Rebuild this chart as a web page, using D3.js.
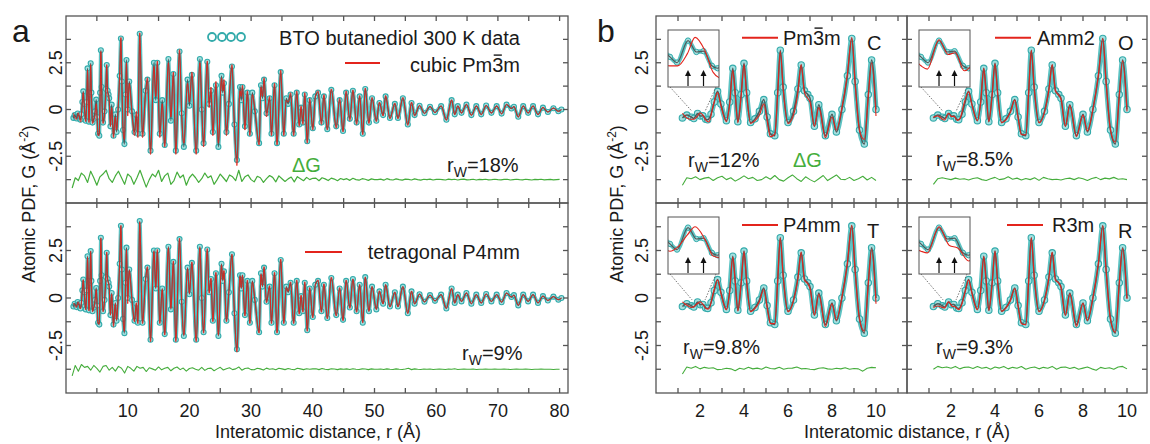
<!DOCTYPE html>
<html><head><meta charset="utf-8">
<script src="https://cdn.jsdelivr.net/npm/d3@7"></script>
<style>body{margin:0;background:#fff}svg{display:block}text{font-family:"Liberation Sans",Arial,Helvetica,sans-serif}</style>
</head><body><script>
// ---------------- DATA ----------------
// measured PDF, BTO butanediol 300 K: [r (Å), G (Å^-2)]
const pdfData = [
[1.2,-0.45],[1.4,-0.3],[1.61,-0.41],[1.72,-0.48],[1.89,-0.21],[2.02,-0.35],[2.13,-0.34],[2.26,-0.52],[2.35,-0.55],[2.5,-0.25],[2.65,0.4],[2.8,0.97],[2.95,0.3],[3.2,-0.6],[3.35,0.4],[3.49,2.2],[3.6,0.9],[3.72,-0.65],[3.87,0.8],[4.0,2.47],[4.12,0.9],[4.3,-0.7],[4.5,-0.5],[4.7,-0.1],[4.9,0.53],[5.05,-0.4],[5.2,-1.3],[5.4,-1.4],[5.53,0.9],[5.65,3.17],[5.78,1.2],[6.0,-0.7],[6.25,-0.1],[6.45,1.1],[6.6,2.38],[6.75,1.0],[6.9,0.8],[7.0,0.6],[7.2,-0.9],[7.4,0.26],[7.7,-1.4],[8.0,-0.26],[8.2,-1.2],[8.45,0.0],[8.7,1.8],[8.9,3.8],[9.05,1.5],[9.25,-1.1],[9.47,-1.85],[9.65,0.8],[9.8,2.65],[10.0,0.0],
[10.25,1.5],[10.7,-0.1],[11.1,-1.2],[11.4,-0.3],[11.65,-1.3],[11.95,4.05],[12.4,-1.3],[12.9,1.0],[13.2,1.6],[13.7,-2.2],[14.25,2.5],[14.55,0.5],[14.8,2.5],[15.2,-1.3],[15.6,0.5],[16.0,-1.9],[16.6,2.7],[17.0,-0.6],[17.4,1.9],[17.8,-2.2],[18.4,3.1],[18.75,-0.2],[19.1,-2.0],[19.7,1.6],[20.0,0.2],[20.4,1.85],[21.1,-2.2],[21.7,2.7],[22.0,0.0],[22.3,-1.8],[22.9,2.55],[23.2,0.3],[23.5,1.0],[23.8,-1.2],[24.3,1.3],[24.7,-2.0],[25.2,1.8],[25.4,0.9],[25.6,1.4],[26.0,-1.2],[26.4,0.3],[26.9,2.3],[27.3,-0.8],[27.7,-2.7],[28.2,1.2],[28.4,0.5],[28.6,1.2],[29.0,-0.9],[29.4,0.9],[29.8,-1.3],[30.2,0.9],[30.6,-0.1],[31.3,-1.8],[31.6,1.3],[31.85,0.6],[32.1,1.6],[32.5,-0.2],[33.0,0.6],[33.3,-1.3],[33.8,1.3],[34.2,-1.8],[34.8,2.0],[35.3,-1.3],[35.7,0.6],[36.0,0.3],[36.4,0.8],[36.9,-1.3],[37.4,0.9],[37.8,-0.8],[38.1,0.1],[38.4,-0.7],[38.7,0.8],[39.1,-1.7],[39.5,0.5],[40.0,-1.0],[40.4,0.7],[40.85,0.9],[41.4,-0.7],[41.8,0.7],[42.35,-1.05],[43.0,1.05],[43.8,-0.9],[44.35,0.5],[44.9,-1.15],[45.4,0.9],[46.0,-0.5],[46.5,1.0],[47.1,-0.7],[47.6,0.7],[48.1,-1.3],[48.5,1.1],[49.1,-0.7],[49.6,0.6],[50.3,-0.6],[50.8,0.35],[51.4,-0.3],[51.8,0.7],[52.5,-0.45],[53.3,0.3],[53.8,-0.45],[54.6,0.6],[55.4,-0.8],[56.0,0.35],[56.5,-0.3],[57.3,0.2],[58.1,-0.2],[59.0,0.15],[59.8,-0.15],[60.8,0.18],[61.65,-0.55],[62.5,0.5],[63.0,-0.26],[63.5,0.18],[64.1,-0.18],[64.9,0.26],[65.7,-0.3],[66.5,0.18],[67.3,-0.26],[68.1,0.21],[68.95,-0.18],[69.8,0.18],[70.6,-0.22],[71.4,0.26],[72.2,0.05],[72.6,0.15],[73.3,-0.39],[74.1,0.18],[74.9,-0.18],[75.7,0.18],[76.5,-0.26],[77.3,0.1],[78.1,-0.13],[79.0,0.07],[79.8,-0.09],[80.3,0.0]
];
// panel a fits
const fitCubicA = [
[1.2,-0.2],[1.4,-0.45],[1.61,-0.52],[1.73,-0.52],[1.88,-0.37],[2.0,-0.17],[2.15,-0.33],[2.28,-0.6],[2.4,-0.67],[2.6,0.2],[2.8,0.9],[2.95,0.2],[3.2,-0.65],[3.35,0.3],[3.49,2.1],[3.6,0.8],[3.72,-0.7],[3.87,0.7],[4.0,2.4],[4.12,0.8],[4.3,-0.75],[4.5,-0.6],[4.7,-0.3],[4.9,0.3],[5.05,-0.6],[5.2,-1.4],[5.4,-1.3],[5.53,0.8],[5.65,3.1],[5.78,1.1],[6.0,-0.75],[6.25,-0.3],[6.45,0.9],[6.6,2.4],[6.75,0.9],[6.9,0.6],[7.0,0.4],[7.2,-0.9],[7.4,0.1],[7.7,-1.5],[8.0,-0.4],[8.2,-1.1],[8.45,0.1],[8.7,1.9],[8.9,3.85],[9.05,1.4],[9.25,-1.1],[9.47,-1.6],[9.65,0.7],[9.8,2.5],[10.0,-0.35],
[10.25,1.4],[10.7,-0.3],[11.1,-1.4],[11.4,-0.1],[11.65,-1.5],[11.95,4.1],[12.4,-1.5],[12.9,0.8],[13.2,1.7],[13.7,-2.4],[14.25,2.3],[14.55,0.7],[14.8,2.6],[15.2,-1.5],[15.6,0.3],[16.0,-2.0],[16.6,2.5],[17.0,-0.4],[17.4,2.0],[17.8,-2.4],[18.4,3.2],[18.75,-0.4],[19.1,-1.8],[19.7,1.4],[20.0,0.4],[20.4,2.0],[21.1,-2.4],[21.7,2.5],[22.0,0.2],[22.3,-2.0],[22.9,2.6],[23.2,0.1],[23.5,1.2],[23.8,-1.4],[24.3,1.5],[24.7,-1.8],[25.2,1.7],[25.4,1.0],[25.6,1.6],[26.0,-1.4],[26.4,0.5],[26.9,2.4],[27.3,-1.0],[27.7,-3.0],[28.2,1.0],[28.4,0.7],[28.6,1.3],[29.0,-1.1],[29.4,1.0],[29.8,-1.4],[30.2,0.8],[30.6,0.1],[31.3,-1.9],[31.6,1.2],[31.85,0.7],[32.1,1.7],[32.5,-0.4],[33.0,0.7],[33.3,-1.4],[33.8,1.4],[34.2,-1.9],[34.8,2.1],[35.3,-1.4],[35.7,0.5],[36.0,0.4],[36.4,0.9],[36.9,-1.4],[37.4,1.0],[37.8,-0.9],[38.1,0.2],[38.4,-0.8],[38.7,0.9],[39.1,-1.8],[39.5,0.6],[40.0,-1.1],[40.4,0.6],[40.85,1.0],[41.4,-0.8],[41.8,0.8],[42.35,-1.1],[43.0,1.1],[43.8,-1.0],[44.35,0.6],[44.9,-1.2],[45.4,1.0],[46.0,-0.6],[46.5,1.05],[47.1,-0.8],[47.6,0.75],[48.1,-1.35],[48.5,1.15],[49.1,-0.75],[49.6,0.65],[50.3,-0.65],[50.8,0.4],[51.4,-0.35],[51.8,0.75],[52.5,-0.5],[53.3,0.35],[53.8,-0.5],[54.6,0.65],[55.4,-0.85],[56.0,0.4],[56.5,-0.35],[57.3,0.22],[58.1,-0.22],[59.0,0.17],[59.8,-0.17],[60.8,0.2],[61.65,-0.58],[62.5,0.52],[63.0,-0.28],[63.5,0.2],[64.1,-0.2],[64.9,0.28],[65.7,-0.32],[66.5,0.2],[67.3,-0.28],[68.1,0.22],[68.95,-0.2],[69.8,0.2],[70.6,-0.24],[71.4,0.28],[72.2,0.06],[72.6,0.16],[73.3,-0.4],[74.1,0.2],[74.9,-0.2],[75.7,0.2],[76.5,-0.28],[77.3,0.12],[78.1,-0.14],[79.0,0.08],[79.8,-0.1],[80.3,0.0]
];
const fitTetraA = [
[1.2,-0.26],[1.4,-0.38],[1.61,-0.5],[1.73,-0.45],[1.88,-0.3],[2.0,-0.2],[2.15,-0.35],[2.28,-0.56],[2.4,-0.55],[2.6,0.3],[2.8,0.95],[2.95,0.25],[3.2,-0.62],[3.35,0.35],[3.49,2.15],[3.6,0.85],[3.72,-0.68],[3.87,0.75],[4.0,2.45],[4.12,0.85],[4.3,-0.72],[4.5,-0.55],[4.7,-0.2],[4.9,0.45],[5.05,-0.5],[5.2,-1.35],[5.4,-1.35],[5.53,0.85],[5.65,3.15],[5.78,1.15],[6.0,-0.72],[6.25,-0.15],[6.45,1.0],[6.6,2.42],[6.75,0.95],[6.9,0.75],[7.0,0.5],[7.2,-0.9],[7.4,0.2],[7.7,-1.5],[8.0,-0.3],[8.2,-1.15],[8.45,0.05],[8.7,1.85],[8.9,3.82],[9.05,1.45],[9.25,-1.1],[9.47,-1.75],[9.65,0.75],[9.8,2.55],[10.0,-0.3],
[10.25,1.45],[10.7,-0.15],[11.1,-1.25],[11.4,-0.25],[11.65,-1.35],[11.95,4.0],[12.4,-1.35],[12.9,0.95],[13.2,1.65],[13.7,-2.3],[14.25,2.45],[14.55,0.55],[14.8,2.55],[15.2,-1.35],[15.6,0.45],[16.0,-1.95],[16.6,2.65],[17.0,-0.55],[17.4,1.95],[17.8,-2.3],[18.4,3.15],[18.75,-0.25],[19.1,-1.95],[19.7,1.55],[20.0,0.25],[20.4,1.9],[21.1,-2.3],[21.7,2.65],[22.0,0.05],[22.3,-1.85],[22.9,2.6],[23.2,0.25],[23.5,1.05],[23.8,-1.25],[24.3,1.35],[24.7,-1.95],[25.2,1.75],[25.4,0.95],[25.6,1.45],[26.0,-1.25],[26.4,0.35],[26.9,2.3],[27.3,-0.85],[27.7,-2.85],[28.2,1.15],[28.4,0.55],[28.6,1.2],[29.0,-0.95],[29.4,0.95],[29.8,-1.35],[30.2,0.85],[30.6,-0.05],[31.3,-1.85],[31.6,1.25],[31.85,0.65],[32.1,1.65],[32.5,-0.25],[33.0,0.65],[33.3,-1.35],[33.8,1.35],[34.2,-1.85],[34.8,2.05],[35.3,-1.35],[35.7,0.55],[36.0,0.35],[36.4,0.85],[36.9,-1.35],[37.4,0.95],[37.8,-0.85],[38.1,0.15],[38.4,-0.75],[38.7,0.85],[39.1,-1.75],[39.5,0.55],[40.0,-1.05],[40.4,0.65],[40.85,0.95],[41.4,-0.75],[41.8,0.75],[42.35,-1.1],[43.0,1.1],[43.8,-0.95],[44.35,0.55],[44.9,-1.2],[45.4,0.95],[46.0,-0.55],[46.5,1.0],[47.1,-0.75],[47.6,0.7],[48.1,-1.3],[48.5,1.1],[49.1,-0.7],[49.6,0.6],[50.3,-0.6],[50.8,0.38],[51.4,-0.32],[51.8,0.7],[52.5,-0.47],[53.3,0.32],[53.8,-0.47],[54.6,0.6],[55.4,-0.82],[56.0,0.37],[56.5,-0.32],[57.3,0.2],[58.1,-0.2],[59.0,0.15],[59.8,-0.15],[60.8,0.18],[61.65,-0.55],[62.5,0.5],[63.0,-0.27],[63.5,0.18],[64.1,-0.18],[64.9,0.27],[65.7,-0.3],[66.5,0.18],[67.3,-0.27],[68.1,0.21],[68.95,-0.18],[69.8,0.18],[70.6,-0.22],[71.4,0.26],[72.2,0.05],[72.6,0.15],[73.3,-0.38],[74.1,0.18],[74.9,-0.18],[75.7,0.18],[76.5,-0.26],[77.3,0.1],[78.1,-0.13],[79.0,0.07],[79.8,-0.09],[80.3,0.0]
];
// panel a difference curves, sampled every 0.5 Å from r = 1 Å
const residCubicA = [-0.45,0.1,-0.05,0.35,0.2,-0.15,0.45,0.1,-0.3,0.15,0.3,0.5,0.05,-0.15,0.2,0.45,0.1,-0.25,0.3,
0.15,-0.25,0.1,0.5,0.05,-0.4,0.0,0.3,0.15,0.5,-0.1,0.2,0.35,-0.25,-0.05,0.4,0.1,0.25,-0.3,0.1,
0.3,0.1,-0.15,0.05,0.35,0.1,0.2,-0.25,0.0,0.3,0.1,-0.1,0.25,0.15,-0.05,0.5,-0.1,0.15,0.25,0.0,
-0.12,0.18,0.1,-0.15,0.05,0.22,0.12,-0.12,0.2,0.05,-0.1,0.04,0.14,-0.12,0.16,0.05,-0.06,0.12,0.0,0.07,
0.08,-0.06,0.1,0.04,-0.05,0.08,0.03,-0.06,0.06,0.0,0.05,-0.04,0.07,0.0,-0.03,0.05,0.02,-0.04,0.04,0.0,
0.0,0.03,-0.03,0.05,0.0,-0.02,0.04,0.0,-0.03,0.03,0.01,-0.02,0.04,0.0,-0.03,0.02,0.0,0.03,-0.02,0.01,
0.02,0.0,-0.02,0.03,0.0,0.02,-0.02,0.01,0.03,-0.01,0.0,0.02,-0.02,0.01,0.0,0.02,-0.01,0.0,0.02,0.0,
-0.01,0.01,0.02,-0.02,0.0,0.02,0.0,-0.01,0.02,0.0,-0.02,0.01,0.0,0.02,-0.01,0.0,0.01,-0.01,0.0,0.01];
const residTetraA = [-0.35,0.2,-0.1,0.25,0.1,0.15,-0.05,0.2,0.05,-0.15,0.15,0.2,-0.05,0.1,-0.1,0.15,0.05,-0.2,0.15,
0.05,-0.1,0.15,0.05,0.1,-0.12,0.08,0.02,-0.05,0.12,-0.03,0.05,0.1,-0.08,0.05,0.12,-0.02,0.06,-0.1,0.04,
0.08,0.0,-0.05,0.1,-0.06,0.04,0.06,-0.08,0.02,0.1,-0.04,0.03,0.08,-0.02,0.02,0.12,-0.05,0.04,0.07,-0.02,
-0.03,0.05,0.02,-0.04,0.06,0.0,0.03,-0.03,0.05,0.02,-0.02,0.04,0.0,-0.03,0.05,0.02,-0.02,0.03,0.0,0.02,
0.03,-0.02,0.04,0.0,-0.02,0.03,0.01,-0.02,0.02,0.0,0.02,-0.01,0.03,0.0,-0.01,0.02,0.01,-0.02,0.02,0.0,
0.0,0.01,-0.01,0.02,0.0,-0.01,0.02,0.0,-0.01,0.01,0.05,-0.02,0.02,0.0,-0.01,0.01,0.0,0.01,-0.01,0.0,
0.01,0.0,-0.01,0.01,0.0,0.03,-0.01,0.0,0.01,0.0,0.0,0.01,-0.01,0.0,0.0,0.01,0.0,0.0,0.01,0.0,
0.0,0.01,0.0,-0.01,0.0,0.01,0.0,0.0,0.01,0.0,-0.01,0.0,0.0,0.01,0.0,0.0,0.0,-0.01,0.0,0.0];
// panel b fits (r = 1.2 .. 10 Å)
const fitPm3mB = [[1.2,-0.2],[1.4,-0.45],[1.61,-0.52],[1.73,-0.52],[1.88,-0.37],[2.0,-0.17],[2.15,-0.33],[2.28,-0.6],[2.4,-0.67],[2.6,0.2],[2.8,0.9],[2.95,0.2],[3.2,-0.65],[3.35,0.3],[3.49,2.1],[3.6,0.8],[3.72,-0.7],[3.87,0.7],[4.0,2.4],[4.12,0.8],[4.3,-0.75],[4.5,-0.6],[4.7,-0.3],[4.9,0.3],[5.05,-0.6],[5.2,-1.45],[5.4,-1.3],[5.53,0.8],[5.65,3.1],[5.78,1.1],[6.0,-0.75],[6.25,-0.3],[6.45,0.9],[6.6,2.4],[6.75,0.9],[6.9,0.6],[7.0,0.4],[7.2,-0.9],[7.4,0.1],[7.7,-1.5],[8.0,-0.4],[8.2,-1.1],[8.45,0.1],[8.7,1.9],[8.9,3.85],[9.05,1.4],[9.25,-1.1],[9.47,-1.6],[9.65,0.7],[9.8,2.5],[10.0,-0.35]];
const fitAmm2B = [[1.2,-0.42],[1.4,-0.35],[1.61,-0.52],[1.71,-0.56],[1.89,-0.2],[2.03,-0.38],[2.14,-0.36],[2.28,-0.58],[2.4,-0.5],[2.6,0.35],[2.8,0.95],[2.95,0.25],[3.2,-0.6],[3.35,0.4],[3.49,2.2],[3.6,0.85],[3.72,-0.65],[3.87,0.8],[4.0,2.45],[4.12,0.85],[4.3,-0.7],[4.5,-0.55],[4.7,-0.15],[4.9,0.5],[5.05,-0.45],[5.2,-1.35],[5.4,-1.35],[5.53,0.9],[5.65,3.15],[5.78,1.15],[6.0,-0.7],[6.25,-0.15],[6.45,1.05],[6.6,2.4],[6.75,1.0],[6.9,0.75],[7.0,0.55],[7.2,-0.9],[7.4,0.22],[7.7,-1.45],[8.0,-0.3],[8.2,-1.15],[8.45,0.0],[8.7,1.85],[8.9,3.8],[9.05,1.45],[9.25,-1.1],[9.47,-1.75],[9.65,0.75],[9.8,2.6],[10.0,-0.1]];
const fitP4mmB = [[1.2,-0.2],[1.4,-0.38],[1.61,-0.5],[1.73,-0.45],[1.88,-0.3],[2.0,-0.2],[2.15,-0.35],[2.28,-0.56],[2.4,-0.58],[2.6,0.25],[2.8,0.95],[2.95,0.25],[3.2,-0.62],[3.35,0.35],[3.49,2.15],[3.6,0.85],[3.72,-0.68],[3.87,0.75],[4.0,2.45],[4.12,0.85],[4.3,-0.72],[4.5,-0.55],[4.7,-0.2],[4.9,0.45],[5.05,-0.5],[5.2,-1.35],[5.4,-1.35],[5.53,0.85],[5.65,3.15],[5.78,1.15],[6.0,-0.72],[6.25,-0.15],[6.45,1.0],[6.6,2.42],[6.75,0.95],[6.9,0.75],[7.0,0.5],[7.2,-0.9],[7.4,0.2],[7.7,-1.5],[8.0,-0.3],[8.2,-1.15],[8.45,0.05],[8.7,1.85],[8.9,3.82],[9.05,1.45],[9.25,-1.1],[9.47,-1.75],[9.65,0.75],[9.8,2.55],[10.0,-0.3]];
const fitR3mB = [[1.2,-0.5],[1.4,-0.42],[1.61,-0.5],[1.71,-0.52],[1.89,-0.2],[2.05,-0.43],[2.18,-0.46],[2.35,-0.62],[2.5,-0.3],[2.65,0.35],[2.8,0.95],[2.95,0.25],[3.2,-0.62],[3.35,0.38],[3.49,2.18],[3.6,0.85],[3.72,-0.66],[3.87,0.78],[4.0,2.46],[4.12,0.85],[4.3,-0.7],[4.5,-0.52],[4.7,-0.15],[4.9,0.5],[5.05,-0.45],[5.2,-1.35],[5.4,-1.4],[5.53,0.9],[5.65,3.15],[5.78,1.15],[6.0,-0.72],[6.25,-0.12],[6.45,1.05],[6.6,2.4],[6.75,0.95],[6.9,0.78],[7.0,0.55],[7.2,-0.92],[7.4,0.22],[7.7,-1.5],[8.0,-0.28],[8.2,-1.18],[8.45,0.0],[8.7,1.82],[8.9,3.8],[9.05,1.45],[9.25,-1.12],[9.47,-1.8],[9.65,0.78],[9.8,2.6],[10.0,-0.05]];
// panel b difference curves, sampled every 0.2 Å from r = 1.2 Å
const residPm3mB = [-0.3,0.1,0.05,0.15,0.0,0.08,0.12,-0.05,0.1,0.18,0.0,0.1,-0.08,0.05,0.2,0.05,0.12,-0.05,0.0,0.15,0.02,0.22,0.0,-0.08,0.1,0.25,0.05,-0.1,0.15,0.0,-0.12,0.05,0.22,-0.05,0.1,0.25,0.02,0.0,0.12,-0.05,0.05,0.18,-0.02,0.12,-0.05];
const residAmm2B = [-0.25,0.05,0.1,0.05,0.0,0.08,0.02,0.05,-0.02,0.06,0.1,0.0,-0.05,0.05,0.12,0.0,0.04,0.15,0.02,0.08,-0.02,0.06,0.0,0.1,-0.04,0.12,0.05,0.0,0.02,-0.02,0.05,0.08,0.0,0.1,0.05,-0.05,0.06,0.12,0.0,0.08,0.04,0.12,0.02,0.05,0.0];
const residP4mmB = [-0.25,0.12,0.05,0.15,0.02,0.1,0.05,0.08,-0.02,0.0,0.05,0.02,-0.08,0.05,0.0,0.1,0.02,0.06,0.0,0.12,0.04,0.02,0.1,0.0,0.05,0.06,0.12,0.02,0.04,0.0,-0.02,0.05,0.08,0.02,0.0,0.05,0.02,0.08,0.0,0.04,0.02,-0.1,0.05,0.1,0.08];
const residR3mB = [0.0,0.15,0.08,0.12,0.05,0.15,0.02,0.1,0.12,0.04,0.14,0.05,0.1,0.0,0.12,0.06,0.15,0.02,0.1,0.05,0.14,0.0,0.08,0.12,0.02,0.1,0.05,0.15,0.0,0.1,0.12,0.04,0.1,0.0,0.06,0.12,0.02,-0.05,0.1,0.04,0.08,0.0,0.12,0.15,0.02];
// tick values and labels
const yTickVals = [-3.75,-2.5,-1.25,0,1.25,2.5,3.75];
const yTickLabels = [-2.5,0,2.5];
const xTicksA = [5,10,15,20,25,30,35,40,45,50,55,60,65,70,75,80];
const xLabelsA = [10,20,30,40,50,60,70,80];
const xTicksBL = [1,2,3,4,5,6,7,8,9,10,11];
const xTicksBR = [1,2,3,4,5,6,7,8,9,10];
const xLabelsB = [2,4,6,8,10];
const insetArrowsR = [1.89,2.13];
const modelNamesB = ["Pm3m","Amm2","P4mm","R3m"];
const phaseLettersB = ["C","O","T","R"];
const rwA = ["18%","9%"];
const rwB = ["12%","8.5%","9.8%","9.3%"];

// ---------------- DRAWING ----------------
const W=1150,H=444;
const svg=d3.select('body').append('svg').attr('width',W).attr('height',H);
const AX='#555', CYAN='#5cc3c3', CYAN_D='#34abab', CYAN_F='#a3dfdf', CORE='#505a5a', RED='#e3241c', GREEN='#45ad3c', TXT='#1a1a1a';
const rows=[[16,203],[203,393]];
const yDom=[-5,5];
const TL=5, RES_OFF=-3.75;
let cid=0;

function makeSub(x0,x1,row,xmax){
  const [t,b]=rows[row];
  const x=d3.scaleLinear().domain([0,xmax]).range([x0,x1]);
  const y=d3.scaleLinear().domain(yDom).range([b,t]);
  const id='clp'+(cid++);
  svg.append('clipPath').attr('id',id).append('rect').attr('x',x0).attr('y',t).attr('width',x1-x0).attr('height',b-t);
  const plot=svg.append('g').attr('clip-path',`url(#${id})`);
  return {x,y,plot,x0,x1,t,b};
}
function frame(s,xt){
  const g=svg.append('g').attr('stroke',AX).attr('stroke-width',1.3).attr('fill','none');
  g.append('rect').attr('x',s.x0).attr('y',s.t).attr('width',s.x1-s.x0).attr('height',s.b-s.t);
  xt.forEach(v=>{const p=s.x(v);
    g.append('line').attr('x1',p).attr('x2',p).attr('y1',s.b).attr('y2',s.b-TL);
    g.append('line').attr('x1',p).attr('x2',p).attr('y1',s.t).attr('y2',s.t+TL);});
  yTickVals.forEach(v=>{const p=s.y(v);
    g.append('line').attr('x1',s.x0).attr('x2',s.x0+TL).attr('y1',p).attr('y2',p);
    g.append('line').attr('x1',s.x1).attr('x2',s.x1-TL).attr('y1',p).attr('y2',p);});
}
function lineOf(s){return d3.line().x(d=>s.x(d[0])).y(d=>s.y(d[1])).curve(d3.curveMonotoneX);}
function trace(s,data,fit,cr,bandW,coreW,redW){
  const L=lineOf(s);
  s.plot.append('path').datum(data).attr('d',L).attr('fill','none').attr('stroke',CYAN).attr('stroke-width',bandW);
  s.plot.append('g').selectAll('circle').data(data).join('circle')
    .attr('cx',d=>s.x(d[0])).attr('cy',d=>s.y(d[1])).attr('r',cr)
    .attr('fill',CYAN_F).attr('stroke',CYAN_D).attr('stroke-width',1.1);
  s.plot.append('path').datum(data).attr('d',L).attr('fill','none').attr('stroke',CORE).attr('stroke-width',coreW);
  s.plot.append('path').datum(fit).attr('d',L).attr('fill','none').attr('stroke',RED).attr('stroke-width',redW);
}
function resid(s,r0,step,vals,w){
  const pts=vals.map((v,i)=>[r0+i*step, RES_OFF+v]);
  s.plot.append('path').datum(pts).attr('d',d3.line().x(d=>s.x(d[0])).y(d=>s.y(d[1])))
    .attr('fill','none').attr('stroke',GREEN).attr('stroke-width',w).attr('stroke-linejoin','round');
}
function text(x,y,str,size,anchor,color){
  return svg.append('text').attr('x',x).attr('y',y).attr('font-size',size).attr('text-anchor',anchor||'start').attr('fill',color||TXT).text(str);
}
function barOver3(t,size){ // overbar on the "3" of Pm3m
  const s=t.text(); const i=s.indexOf('3'); const e=t.node().getExtentOfChar(i);
  const yb=+t.attr('y')-0.72*size-2.5;
  svg.append('line').attr('x1',e.x+1.5).attr('x2',e.x+e.width-1.5).attr('y1',yb).attr('y2',yb).attr('stroke',TXT).attr('stroke-width',1.4);
}
function rw(x,y,val,size){
  const t=svg.append('text').attr('x',x).attr('y',y).attr('font-size',size).attr('fill',TXT);
  t.append('tspan').text('r');
  t.append('tspan').attr('font-size',size*0.7).attr('dy',5).text('W');
  t.append('tspan').attr('dy',-5).text('='+val);
}
function yTickText(s,xb){
  yTickLabels.forEach(v=>{
    svg.append('text').attr('transform',`translate(${xb},${s.y(v)}) rotate(-90)`).attr('text-anchor','middle')
      .attr('font-size',18).attr('fill',TXT).text(String(v));
  });
}
function xTickText(s,vals){
  vals.forEach(v=>text(s.x(v),417,String(v),18,'middle'));
}
function yTitle(xb,yc){
  const t=svg.append('text').attr('transform',`translate(${xb},${yc}) rotate(-90)`).attr('text-anchor','middle').attr('font-size',18).attr('fill',TXT);
  t.append('tspan').text('Atomic PDF, G (Å');
  t.append('tspan').attr('font-size',12).attr('dy',-7).text('-2');
  t.append('tspan').attr('dy',7).text(')');
}

// ---- panel a ----
const aXmax=(568-66)/6.17;
const aTop=makeSub(66,568,0,aXmax), aBot=makeSub(66,568,1,aXmax);
trace(aTop,pdfData,fitCubicA,2.5,3.6,1.2,0.9);
trace(aBot,pdfData,fitTetraA,2.5,3.6,1.2,0.9);
resid(aTop,1.0,0.5,residCubicA,1.2);
resid(aBot,1.0,0.5,residTetraA,1.1);
frame(aTop,xTicksA); frame(aBot,xTicksA);
yTickText(aTop,62); yTickText(aBot,62);
xTickText(aBot,xLabelsA);
yTitle(35,204);
text(318,438,'Interatomic distance, r (Å)',18,'middle');
text(12,42,'a',32);
// legend a
[212,222,231,241].forEach(cx=>svg.append('circle').attr('cx',cx).attr('cy',37).attr('r',4).attr('fill','#fff').attr('stroke',CYAN_D).attr('stroke-width',1.8));
text(520,45,'BTO butanediol 300 K data',20,'end');
svg.append('line').attr('x1',345).attr('x2',380).attr('y1',63).attr('y2',63).attr('stroke',RED).attr('stroke-width',2);
barOver3(text(520,72,'cubic Pm3m',20,'end'),20);
text(292,172,'ΔG',20,'start',GREEN);
rw(447,172,rwA[0],20);
svg.append('line').attr('x1',305).attr('x2',342).attr('y1',252).attr('y2',252).attr('stroke',RED).attr('stroke-width',2);
text(520,259,'tetragonal P4mm',20,'end');
rw(462,360,rwA[1],20);

// ---- panel b ----
const bL=[656,907], bR=[907,1147];
const subsB=[
  makeSub(bL[0],bL[1],0,(bL[1]-bL[0])/22),
  makeSub(bR[0],bR[1],0,(bR[1]-bR[0])/22),
  makeSub(bL[0],bL[1],1,(bL[1]-bL[0])/22),
  makeSub(bR[0],bR[1],1,(bR[1]-bR[0])/22)];
const fitsB=[fitPm3mB,fitAmm2B,fitP4mmB,fitR3mB];
const residsB=[residPm3mB,residAmm2B,residP4mmB,residR3mB];
const dataB=pdfData.filter(d=>d[0]<=10.001);
subsB.forEach((s,i)=>{
  trace(s,dataB,fitsB[i],3.2,5,1.5,1.1);
  resid(s,1.2,0.2,residsB[i],1.1);
});
// insets
subsB.forEach((s,i)=>{
  const bx=s.x0+12, by=s.t+14, bw=51, bh=57;
  const ix=d3.scaleLinear().domain([1.58,2.37]).range([bx,bx+bw]);
  const iy=d3.scaleLinear().domain([-0.78,-0.08]).range([by+bh,by]);
  const dg=svg.append('g').attr('stroke','#666').attr('stroke-width',0.9).attr('stroke-dasharray','1.5,1.5');
  dg.append('line').attr('x1',bx+2).attr('y1',by+bh).attr('x2',s.x(1.64)).attr('y2',s.y(-0.1));
  dg.append('line').attr('x1',bx+bw-3).attr('y1',by+bh).attr('x2',s.x(2.23)).attr('y2',s.y(-0.1));
  svg.append('rect').attr('x',bx).attr('y',by).attr('width',bw).attr('height',bh).attr('fill','#fff');
  const id='iclp'+i;
  svg.append('clipPath').attr('id',id).append('rect').attr('x',bx).attr('y',by).attr('width',bw).attr('height',bh);
  const g=svg.append('g').attr('clip-path',`url(#${id})`);
  const dd=pdfData.filter(d=>d[0]>=1.2&&d[0]<=2.8), ff=fitsB[i].filter(d=>d[0]>=1.2&&d[0]<=2.8);
  const L=d3.line().x(d=>ix(d[0])).y(d=>iy(d[1])).curve(d3.curveMonotoneX);
  g.append('path').datum(dd).attr('d',L).attr('fill','none').attr('stroke',CYAN).attr('stroke-width',4.5);
  g.selectAll('circle').data(dd).join('circle').attr('cx',d=>ix(d[0])).attr('cy',d=>iy(d[1])).attr('r',2.7).attr('fill',CYAN_F).attr('stroke',CYAN_D).attr('stroke-width',1);
  g.append('path').datum(dd).attr('d',L).attr('fill','none').attr('stroke',CORE).attr('stroke-width',1.2);
  g.append('path').datum(ff).attr('d',L).attr('fill','none').attr('stroke',RED).attr('stroke-width',1.1);
  insetArrowsR.forEach(r=>{
    const ax=ix(r);
    svg.append('line').attr('x1',ax).attr('x2',ax).attr('y1',by+bh-1).attr('y2',by+bh-13).attr('stroke','#111').attr('stroke-width',1.2);
    svg.append('path').attr('d',`M${ax-3},${by+bh-11}L${ax},${by+bh-17}L${ax+3},${by+bh-11}Z`).attr('fill','#111');
  });
  svg.append('rect').attr('x',bx).attr('y',by).attr('width',bw).attr('height',bh).attr('fill','none').attr('stroke','#555').attr('stroke-width',1);
});
subsB.forEach((s,i)=>frame(s,i%2===0?xTicksBL:xTicksBR));
yTickText(subsB[0],648); yTickText(subsB[2],648);
xTickText(subsB[2],xLabelsB); xTickText(subsB[3],xLabelsB);
yTitle(623,204);
text(907,438,'Interatomic distance, r (Å)',18,'middle');
text(597,42,'b',32);
// legends b
const legB=[[742,37.7,783,45],[995,37.7,1037,45],[742,225,783,232],[1007,225,1052,232]];
const letterB=[[867,50],[1118,50],[867,238],[1118,238]];
const rwPos=[[688,167],[936,166],[683,354],[936,354]];
subsB.forEach((s,i)=>{
  const l=legB[i];
  svg.append('line').attr('x1',l[0]).attr('x2',l[0]+36).attr('y1',l[1]).attr('y2',l[1]).attr('stroke',RED).attr('stroke-width',2);
  const t=text(l[2],l[3],modelNamesB[i],20);
  if(i===0) barOver3(t,20);
  text(letterB[i][0],letterB[i][1],phaseLettersB[i],20);
  rw(rwPos[i][0],rwPos[i][1],rwB[i],20);
});
text(793,167,'ΔG',20,'start',GREEN);
</script></body></html>
